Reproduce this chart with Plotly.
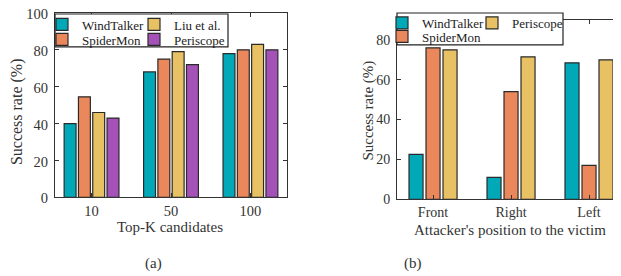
import plotly.graph_objects as go

# the page body adds an 8px margin, so the figure is laid out 8px smaller
OFF = 8
W, H = 621 - OFF, 276 - OFF
FONT = "Liberation Serif, Times New Roman, serif"

# ---------------- data ----------------
topk_labels = ["10", "50", "100"]
windtalker_a = [40, 68, 78]
spidermon_a = [54.5, 75, 80]
liu_a = [46, 79, 83]
periscope_a = [43, 72, 80]

position_labels = ["Front", "Right", "Left"]
windtalker_b = [22.5, 11, 68.5]
spidermon_b = [76, 54, 17]
periscope_b = [75, 71.5, 70]

yticks_a = [0, 20, 40, 60, 80, 100]
yticks_b = [0, 20, 40, 60, 80]

C_WT = "#00A8B8"
C_SM = "#EA885C"
C_LIU = "#E7C164"
C_PERI = "#A552B8"
EDGE = "#2a2a2a"
AXC = "#333333"


def px(x):
    return (x - OFF) / W


def py(y):
    return 1 - (y - OFF) / H


fig = go.Figure()

# left panel: 4 bars per group
wa, sa = 0.15, 0.18
left_series = [
    ("WindTalker", windtalker_a, C_WT, "legend"),
    ("SpiderMon", spidermon_a, C_SM, "legend2"),
    ("Liu et al.", liu_a, C_LIU, "legend3"),
    ("Periscope", periscope_a, C_PERI, "legend4"),
]
for i, (name, vals, col, leg) in enumerate(left_series):
    c = (i - 1.5) * sa
    fig.add_trace(go.Bar(
        x=topk_labels, y=vals, name=name, xaxis="x", yaxis="y",
        width=wa, offset=c - wa / 2,
        marker=dict(color=col, line=dict(color=EDGE, width=1.2)),
        legend=leg, showlegend=True,
    ))

# right panel: 3 bars per group
wb, sb = 0.18, 0.218
right_series = [
    ("WindTalker", windtalker_b, C_WT, "legend5"),
    ("SpiderMon", spidermon_b, C_SM, "legend6"),
    ("Periscope", periscope_b, C_LIU, "legend7"),
]
for i, (name, vals, col, leg) in enumerate(right_series):
    c = (i - 1) * sb
    fig.add_trace(go.Bar(
        x=position_labels, y=vals, name=name, xaxis="x2", yaxis="y2",
        width=wb, offset=c - wb / 2,
        marker=dict(color=col, line=dict(color=EDGE, width=1.2)),
        legend=leg, showlegend=True,
    ))

axis_common = dict(showline=True, linecolor=AXC, linewidth=1, ticks="inside",
                   ticklen=4, tickcolor=AXC, showgrid=False, zeroline=False,
                   automargin=False, ticklabeloverflow="allow")

fig.update_layout(
    width=W, height=H, autosize=False,
    margin=dict(l=0, r=0, t=0, b=0, pad=0),
    paper_bgcolor="white", plot_bgcolor="white",
    barmode="overlay", showlegend=True,
    font=dict(family=FONT, color="#333333"),
    xaxis=dict(domain=[px(55), px(287)], anchor="y", type="category",
               range=[-0.46, 2.46], mirror="ticks",
               tickfont=dict(size=14.5, family=FONT, color="#333"), **axis_common),
    yaxis=dict(domain=[py(197), py(12)], anchor="x", range=[0, 100],
               tickvals=yticks_a, mirror="ticks", ticklabelstandoff=3,
               ticklabelshift=1,
               tickfont=dict(size=14.5, family=FONT, color="#333"), **axis_common),
    xaxis2=dict(domain=[px(397), 1.0], anchor="y2", type="category",
                range=[-0.462, 2.41], mirror="ticks",
                tickfont=dict(size=14, family=FONT, color="#333"), **axis_common),
    yaxis2=dict(domain=[py(199), py(19)], anchor="x2", range=[0, 90],
                tickvals=yticks_b, mirror=False, ticklabelstandoff=3,
                tickfont=dict(size=14, family=FONT, color="#333"), **axis_common),
)

# legend frames (drawn under the legends)
for (x0, x1, y0, y1) in [(55, 228, 13, 46), (397, 563, 12, 44)]:
    fig.add_shape(type="rect", xref="paper", yref="paper",
                  x0=px(x0), x1=px(x1), y0=py(y1), y1=py(y0),
                  line=dict(color="#222222", width=1.2), fillcolor="white",
                  layer="above")

# legends: one entry each, arranged in two columns
leg_pos = {
    "legend": (82, 24.5), "legend2": (82, 39.5),
    "legend3": (174, 24.5), "legend4": (174, 39.5),
    "legend5": (422, 22), "legend6": (422, 36.5),
    "legend7": (512, 22),
}
for key, (tx, ty) in leg_pos.items():
    fig.update_layout({key: dict(
        x=px(tx - 40), y=py(ty), xanchor="left", yanchor="middle",
        bgcolor="rgba(0,0,0,0)", borderwidth=0, visible=True,
        font=dict(size=13, family=FONT, color="#222"),
        itemclick=False, itemdoubleclick=False,
    )})

# axis titles and captions
ann = [
    dict(text="Success rate (%)", x=px(16.5), y=py(111), textangle=-90, size=16),
    dict(text="Top-K candidates", x=px(170), y=py(226.5), textangle=0, size=15),
    dict(text="Success rate (%)", x=px(369), y=py(110), textangle=-90, size=15),
    dict(text="Attacker's position to the victim", x=px(510), y=py(229.5), textangle=0, size=15),
    dict(text="(a)", x=px(153), y=py(263), textangle=0, size=15),
    dict(text="(b)", x=px(413), y=py(263), textangle=0, size=15),
]
for a in ann:
    fig.add_annotation(text=a["text"], x=a["x"], y=a["y"], xref="paper", yref="paper",
                       xanchor="center", yanchor="middle", showarrow=False,
                       textangle=a["textangle"],
                       font=dict(size=a["size"], family=FONT, color="#333"))

fig.write_html("out.html")
